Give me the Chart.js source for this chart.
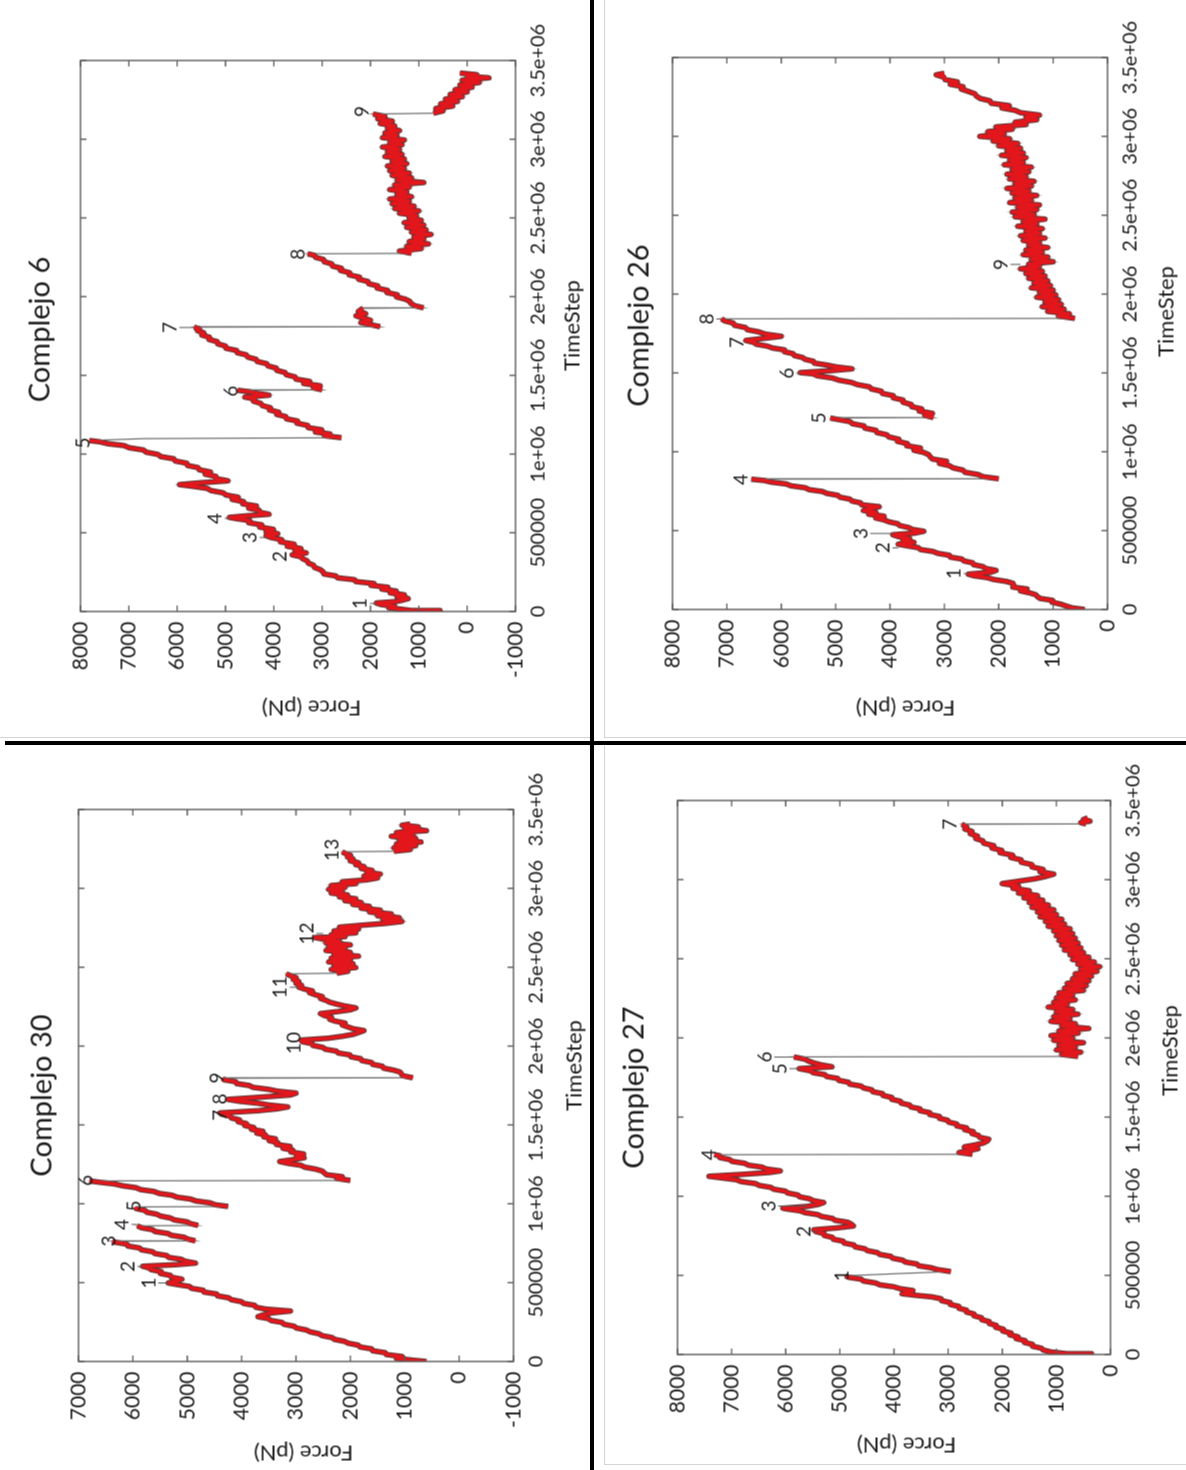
<!DOCTYPE html>
<html>
<head>
<meta charset="utf-8">
<title>Complejos - Force vs TimeStep</title>
<script src="https://cdn.jsdelivr.net/npm/chart.js@4.4.1/dist/chart.umd.min.js"></script>
<style>
  html, body { margin: 0; padding: 0; background: #fff; }
  body { width: 1186px; height: 1470px; position: relative; overflow: hidden; }
  .panel { position: absolute; transform: rotate(-90deg); transform-origin: 50% 50%; }
  .panel canvas { display: block; }
  .rule { position: absolute; background: #000; }
  .faint { position: absolute; background: #d4d4d4; }
</style>
</head>
<body>
<div class="faint" style="left:604px; top:0; width:1px; height:737px;"></div>
<div class="faint" style="left:0; top:737px; width:590px; height:1px;"></div>
<div class="faint" style="left:604px; top:737px; width:582px; height:1px;"></div>
<div class="faint" style="left:604px; top:745px; width:1px; height:720px;"></div>
<div class="faint" style="left:604px; top:1464px; width:582px; height:1px;"></div>
<div class="rule" style="left:590px; top:0; width:4px; height:1470px;"></div>
<div class="rule" style="left:5px; top:741px; width:1181px; height:4px;"></div>

<script>
// Time axis ticks (shared by all four panels)
const timeTickValues = [0, 500000, 1000000, 1500000, 2000000, 2500000, 3000000, 3500000];
const timeTickLabels = ['0', '500000', '1e+06', '1.5e+06', '2e+06', '2.5e+06', '3e+06', '3.5e+06'];

// Force axis ticks per panel
const forceTicks6  = [-1000, 0, 1000, 2000, 3000, 4000, 5000, 6000, 7000, 8000];
const forceTicks26 = [0, 1000, 2000, 3000, 4000, 5000, 6000, 7000, 8000];
const forceTicks30 = [-1000, 0, 1000, 2000, 3000, 4000, 5000, 6000, 7000];
const forceTicks27 = [0, 1000, 2000, 3000, 4000, 5000, 6000, 7000, 8000];

// Series: [time step in thousands, force in pN]
const c6Force = [
  [0,560],[6,1150],[14,1350],[24,1620],[34,1500],[44,1780],[54,1880],[63,1480],[72,1340],[82,1220],[94,1450],[106,1300],
  [118,1590],[130,1470],[142,1760],[154,1640],[166,1990],[178,1930],[190,2300],[202,2330],[214,2680],[226,2720],[238,2960],
  [252,2980],[266,3040],[280,3160],[294,3180],[308,3290],[322,3310],[336,3410],[348,3440],[360,3620],[372,3330],[386,3560],
  [400,3440],[414,3720],[428,3580],[442,3860],[456,3840],[470,4060],[482,4160],[494,3920],[508,4160],[522,4010],[536,4290],
  [550,4250],[564,4520],[578,4500],[590,4780],[598,4920],[608,4550],[618,4100],[630,4290],[642,4300],[656,4520],[670,4360],
  [684,4640],[698,4630],[712,4860],[726,4740],[740,4990],[754,5050],[768,5300],[782,5380],[794,5650],[806,5950],[818,5500],
  [830,4950],[844,5190],[858,5200],[872,5420],[886,5310],[900,5540],[914,5570],[928,5790],[942,5800],[956,6040],[970,6070],
  [984,6340],[998,6400],[1012,6640],[1026,6700],[1040,6990],[1054,7100],[1066,7440],[1078,7600],[1086,7820],[1098,6700],
  [1104,2600],[1116,2950],[1128,2840],[1140,3140],[1154,3010],[1168,3290],[1182,3300],[1196,3520],[1210,3510],[1224,3740],
  [1238,3750],[1252,3940],[1266,3900],[1280,4090],[1294,4070],[1308,4240],[1322,4270],[1336,4420],[1350,4400],[1362,4600],
  [1374,4100],[1386,4350],[1396,4500],[1405,4750],[1408,3000],[1420,3180],[1434,3040],[1448,3380],[1462,3260],[1476,3540],
  [1490,3560],[1504,3740],[1518,3770],[1532,3940],[1546,3950],[1560,4120],[1574,4150],[1588,4340],[1602,4370],[1616,4540],
  [1630,4570],[1644,4760],[1658,4770],[1672,4990],[1686,5000],[1700,5160],[1714,5170],[1728,5340],[1742,5330],[1756,5490],
  [1770,5450],[1784,5580],[1796,5540],[1806,5650],[1809,1800],[1822,2000],[1836,2200],[1850,2000],[1864,2150],[1878,2300],
  [1892,2100],[1906,2250],[1918,2200],[1926,2150],[1929,900],[1942,1080],[1956,1160],[1970,1190],[1984,1280],[1998,1460],
  [2012,1450],[2026,1660],[2040,1650],[2054,1860],[2068,1850],[2082,2040],[2096,2050],[2110,2240],[2124,2230],[2138,2440],
  [2152,2430],[2166,2620],[2180,2600],[2194,2790],[2208,2800],[2222,2960],[2236,2970],[2250,3140],[2262,3150],[2272,3300],
  [2275,1150],[2290,1400],[2305,950],[2320,1250],[2335,800],[2350,1200],[2365,900],[2380,1100],[2395,750],[2410,1150],
  [2425,850],[2440,1250],[2455,900],[2470,1300],[2485,950],[2500,1200],[2515,1050],[2530,1400],[2545,1000],[2560,1500],
  [2575,1100],[2590,1550],[2605,1200],[2620,1600],[2635,1150],[2650,1450],[2665,1250],[2680,1600],[2695,1200],[2710,1500],
  [2725,900],[2740,1450],[2755,1150],[2770,1550],[2785,1200],[2800,1600],[2815,1300],[2830,1650],[2845,1250],[2860,1550],
  [2875,1300],[2890,1700],[2905,1350],[2920,1650],[2935,1400],[2950,1750],[2965,1350],[2980,1600],[2995,1300],[3010,1750],
  [3025,1450],[3040,1700],[3055,1400],[3070,1650],[3085,1500],[3100,1800],[3115,1550],[3130,1850],[3145,1700],[3160,1950],
  [3165,700],[3180,500],[3195,650],[3210,300],[3225,550],[3240,200],[3255,450],[3270,100],[3285,350],[3300,0],[3315,250],
  [3330,-100],[3345,150],[3360,-250],[3375,100],[3390,-450],[3400,0],[3410,-200],[3420,150]
];

const c26Force = [
  [0,420],[10,650],[22,760],[34,860],[46,1020],[58,1010],[70,1240],[82,1290],[94,1320],[106,1440],[118,1600],[130,1480],
  [142,1740],[154,1720],[166,1740],[178,1860],[190,2090],[202,2210],[214,2460],[224,2560],[236,2150],[248,2050],[260,2240],
  [272,2290],[284,2460],[296,2480],[308,2640],[320,2680],[332,2890],[344,2910],[356,3120],[368,3210],[380,3440],[392,3480],
  [404,3690],[414,3850],[426,3560],[438,3760],[450,3640],[462,3840],[474,3950],[484,3550],[496,3380],[508,3590],[520,3660],
  [532,3820],[544,3860],[556,4020],[568,4110],[580,4260],[592,4110],[604,4390],[616,4260],[628,4490],[640,4360],[652,4200],
  [664,4520],[676,4540],[688,4700],[700,4740],[712,4920],[724,4960],[736,5160],[748,5240],[760,5490],[772,5560],[784,5820],
  [796,5910],[808,6190],[818,6310],[826,6550],[829,2000],[842,2290],[856,2380],[870,2620],[884,2660],[898,2840],[912,2910],
  [926,3090],[940,2960],[954,3220],[968,3260],[982,3290],[996,3380],[1010,3560],[1024,3440],[1038,3690],[1052,3680],
  [1066,3860],[1080,3840],[1094,4020],[1108,4060],[1122,4240],[1136,4260],[1150,4460],[1164,4480],[1178,4690],[1192,4740],
  [1204,4940],[1214,5100],[1217,3200],[1230,3360],[1244,3220],[1258,3460],[1272,3420],[1286,3600],[1300,3610],[1314,3760],
  [1328,3760],[1342,3940],[1356,3940],[1370,4140],[1384,4160],[1398,4340],[1412,4380],[1426,4600],[1440,4710],[1454,4940],
  [1468,5060],[1482,5340],[1494,5410],[1502,5650],[1514,5100],[1526,4700],[1538,4990],[1550,5160],[1562,5390],[1574,5410],
  [1586,5560],[1598,5610],[1610,5760],[1622,5780],[1634,5940],[1646,5940],[1658,6160],[1670,6260],[1682,6460],[1694,6510],
  [1706,6650],[1718,6350],[1732,6000],[1746,6290],[1760,6410],[1774,6620],[1788,6660],[1802,6860],[1816,6880],[1830,7040],
  [1843,7100],[1846,600],[1860,900],[1875,700],[1890,1100],[1905,800],[1920,1200],[1935,850],[1950,1150],[1965,900],
  [1980,1300],[1995,950],[2010,1250],[2025,1000],[2040,1400],[2055,1050],[2070,1350],[2085,1100],[2100,1450],[2115,1150],
  [2130,1500],[2145,1200],[2160,1600],[2175,1250],[2190,1450],[2205,1000],[2220,1400],[2235,1100],[2250,1550],[2265,1200],
  [2280,1500],[2295,1100],[2310,1450],[2325,1250],[2340,1550],[2355,1150],[2370,1600],[2385,1250],[2400,1500],[2415,1200],
  [2430,1650],[2445,1300],[2460,1550],[2475,1150],[2490,1700],[2505,1350],[2520,1750],[2535,1300],[2550,1650],[2565,1250],
  [2580,1800],[2595,1400],[2610,1700],[2625,1300],[2640,1750],[2655,1450],[2670,1850],[2685,1400],[2700,1700],[2715,1350],
  [2730,1800],[2745,1500],[2760,1850],[2775,1450],[2790,1750],[2805,1400],[2820,1900],[2835,1550],[2850,1800],[2865,1500],
  [2880,1950],[2895,1550],[2910,1850],[2925,1600],[2940,2000],[2955,1650],[2970,2100],[2985,1800],[3000,2350],[3015,1900],
  [3030,2200],[3045,1750],[3060,2050],[3075,1500],[3090,1700],[3105,1300],[3120,1500],[3135,1250],[3150,1600],[3165,1700],
  [3180,1940],[3195,1810],[3210,2140],[3225,2160],[3240,2340],[3255,2410],[3270,2440],[3285,2560],[3300,2690],[3315,2660],
  [3330,2890],[3345,2760],[3360,2990],[3375,3010],[3390,3150],[3400,3000]
];

const c30Force = [
  [0,600],[8,850],[20,1150],[32,1050],[44,1340],[56,1360],[68,1590],[80,1610],[92,1820],[104,1860],[116,2040],[128,2110],
  [140,2290],[152,2340],[164,2520],[176,2580],[188,2740],[200,2810],[212,2990],[224,3040],[236,3220],[248,3260],[260,3460],
  [272,3510],[284,3700],[296,3600],[308,3450],[320,3100],[332,3550],[344,3740],[356,3760],[368,3960],[380,4010],[392,4190],
  [404,4240],[416,4440],[428,4460],[440,4690],[452,4710],[464,4920],[476,4960],[488,5190],[498,5350],[510,5200],[522,5100],
  [534,5290],[546,5310],[558,5490],[570,5480],[582,5660],[594,5710],[604,5820],[614,5200],[624,4850],[636,5040],[648,5110],
  [660,5340],[672,5380],[684,5590],[696,5640],[708,5840],[720,5880],[732,6090],[744,6110],[756,6320],[762,6380],[765,4850],
  [776,4990],[788,5060],[800,5290],[812,5360],[824,5590],[836,5640],[848,5840],[860,5920],[863,4800],[874,4940],[886,5010],
  [898,5240],[910,5310],[922,5490],[934,5560],[946,5740],[958,5780],[970,5940],[980,5950],[983,4250],[994,4490],[1006,4580],
  [1018,4840],[1030,4940],[1042,5190],[1054,5280],[1066,5520],[1078,5610],[1090,5860],[1102,5940],[1114,6190],[1126,6340],
  [1136,6600],[1145,6800],[1148,2000],[1160,2250],[1172,2150],[1184,2440],[1196,2480],[1208,2520],[1220,2640],[1232,2840],
  [1244,2910],[1256,3140],[1268,3300],[1280,3050],[1292,2850],[1304,2990],[1316,2860],[1328,3090],[1340,3060],[1352,3240],
  [1364,3110],[1376,3360],[1388,3340],[1400,3490],[1412,3380],[1424,3590],[1436,3560],[1448,3720],[1460,3610],[1472,3820],
  [1484,3780],[1496,3940],[1508,3910],[1520,4060],[1532,4040],[1544,4190],[1556,4210],[1568,4370],[1576,4400],[1590,3700],
  [1602,3350],[1614,3150],[1626,3490],[1638,3710],[1650,4040],[1662,4250],[1676,3650],[1690,3100],[1702,3000],[1714,3340],
  [1726,3510],[1738,3790],[1750,3860],[1762,4090],[1774,4110],[1786,4320],[1796,4350],[1799,850],[1812,1040],[1824,1060],
  [1836,1090],[1848,1210],[1860,1390],[1872,1410],[1884,1590],[1896,1610],[1908,1790],[1920,1810],[1932,1990],[1944,2010],
  [1956,2220],[1968,2260],[1980,2460],[1992,2510],[2004,2690],[2016,2710],[2028,2890],[2038,2900],[2050,2400],[2062,2150],
  [2074,1950],[2086,1850],[2098,1750],[2110,1950],[2122,2050],[2134,2150],[2146,2100],[2158,2280],[2170,2380],[2182,2350],
  [2194,2480],[2206,2550],[2218,2250],[2230,2000],[2242,1900],[2254,2100],[2266,2250],[2278,2380],[2290,2450],[2302,2550],
  [2314,2520],[2326,2650],[2338,2750],[2350,2700],[2362,2850],[2374,2950],[2386,2900],[2398,3000],[2410,2950],[2422,3050],
  [2434,3000],[2446,3100],[2458,3180],[2462,2250],[2474,2050],[2486,2350],[2498,1900],[2510,2300],[2522,1950],[2534,2400],
  [2546,2000],[2558,2350],[2570,1850],[2582,2300],[2594,2000],[2606,2450],[2618,2100],[2630,2400],[2642,2000],[2654,2450],
  [2666,2200],[2678,2500],[2688,2650],[2694,2100],[2706,2350],[2718,1900],[2730,2300],[2742,1850],[2754,2200],[2766,1800],
  [2778,1350],[2790,1050],[2802,1400],[2814,1100],[2826,1500],[2838,1250],[2850,1650],[2862,1450],[2874,1800],[2886,1650],
  [2898,1950],[2910,1800],[2922,2100],[2934,1900],[2946,2200],[2958,2050],[2970,2350],[2982,2150],[2994,2400],[3006,2100],
  [3018,2350],[3030,1900],[3042,2150],[3054,1700],[3066,1500],[3078,1750],[3090,1450],[3102,1700],[3114,1600],[3126,1800],
  [3138,1750],[3150,1900],[3162,1850],[3174,2000],[3186,1950],[3198,2050],[3210,2000],[3222,2100],[3232,2150],[3235,1200],
  [3246,900],[3258,1200],[3270,800],[3282,1150],[3294,700],[3306,1100],[3318,800],[3330,1250],[3342,850],[3354,1150],
  [3366,600],[3378,1000],[3390,750],[3400,1050],[3408,900]
];

const c27Force = [
  [0,350],[5,800],[16,1100],[28,1240],[40,1280],[52,1440],[64,1440],[76,1590],[88,1580],[100,1740],[112,1710],[124,1860],
  [136,1840],[148,1990],[160,1980],[172,2120],[184,2110],[196,2240],[208,2240],[220,2380],[232,2380],[244,2520],[256,2520],
  [268,2660],[280,2660],[292,2800],[304,2800],[316,2960],[328,2960],[340,3120],[352,3130],[364,3300],[374,3600],[384,3850],
  [394,3700],[404,3650],[416,3890],[428,4010],[440,4260],[452,4340],[464,4560],[476,4610],[488,4840],[497,4900],[510,4000],
  [524,2950],[536,3190],[548,3310],[560,3540],[572,3580],[584,3790],[596,3840],[608,4020],[620,4060],[632,4260],[644,4310],
  [656,4490],[668,4540],[680,4720],[692,4740],[704,4920],[716,4940],[728,5120],[740,5140],[752,5290],[764,5290],[776,5440],
  [788,5480],[800,5050],[812,4750],[824,4790],[836,4860],[848,5090],[860,5140],[872,5340],[884,5410],[896,5640],[908,5740],
  [918,5950],[924,6050],[936,5600],[948,5400],[960,5300],[972,5490],[984,5560],[996,5740],[1008,5780],[1020,5960],
  [1032,6010],[1044,6220],[1056,6280],[1068,6490],[1080,6560],[1092,6820],[1104,6910],[1116,7190],[1126,7420],[1138,6800],
  [1150,6300],[1160,6100],[1172,6360],[1184,6440],[1196,6690],[1208,6760],[1220,6990],[1232,7040],[1244,7220],[1256,7220],
  [1262,7320],[1265,2550],[1276,2800],[1288,2620],[1300,2450],[1312,2700],[1324,2500],[1336,2350],[1348,2280],[1360,2250],
  [1372,2420],[1384,2440],[1396,2560],[1408,2540],[1420,2690],[1432,2660],[1444,2840],[1456,2840],[1468,2990],[1480,3010],
  [1492,3160],[1504,3160],[1516,3340],[1528,3340],[1540,3520],[1552,3520],[1564,3690],[1576,3710],[1588,3870],[1600,3880],
  [1612,4040],[1624,4040],[1636,4200],[1648,4210],[1660,4390],[1672,4410],[1684,4560],[1696,4610],[1708,4820],[1720,4840],
  [1732,5020],[1744,5040],[1756,5240],[1768,5280],[1780,5490],[1792,5540],[1806,5750],[1818,5150],[1830,5350],[1842,5480],
  [1854,5580],[1866,5650],[1880,5850],[1883,600],[1895,900],[1910,550],[1925,1000],[1940,650],[1955,950],[1970,500],
  [1985,1050],[2000,700],[2015,1100],[2030,600],[2045,950],[2060,400],[2075,900],[2090,650],[2105,1100],[2120,750],
  [2135,1050],[2150,600],[2165,1000],[2180,700],[2195,1150],[2210,800],[2225,1050],[2240,650],[2255,1000],[2270,700],
  [2285,950],[2300,500],[2315,850],[2330,450],[2345,800],[2360,400],[2375,700],[2390,350],[2405,650],[2420,250],[2435,550],
  [2450,200],[2465,600],[2480,300],[2495,700],[2510,400],[2525,750],[2540,500],[2555,850],[2570,550],[2585,900],[2600,600],
  [2615,950],[2630,650],[2645,1000],[2660,700],[2675,1050],[2690,750],[2705,1150],[2720,850],[2735,1200],[2750,900],
  [2765,1300],[2780,1000],[2795,1350],[2810,1050],[2825,1450],[2840,1150],[2855,1500],[2870,1250],[2885,1600],[2900,1350],
  [2915,1700],[2930,1500],[2945,1800],[2960,1700],[2975,2000],[2990,1700],[3005,1400],[3020,1200],[3035,1050],[3050,1300],
  [3065,1250],[3080,1450],[3095,1450],[3110,1650],[3125,1650],[3140,1840],[3155,1810],[3170,2040],[3185,2010],[3200,2190],
  [3215,2160],[3230,2340],[3245,2360],[3260,2490],[3275,2460],[3290,2590],[3305,2560],[3320,2690],[3335,2660],[3350,2750],
  [3352,450],[3360,550],[3370,380],[3380,500],[3390,420]
];

// Numbered events: [label, time step in thousands, label force, force of the marked peak]
const c6Marks  = [['1',51,2200,1880],['2',349,3860,3620],['3',470,4480,4160],['4',591,5200,4920],['5',1070,7950,7820],
                  ['6',1399,4880,4750],['7',1804,6140,5650],['8',2269,3500,3300],['9',3176,2160,1950]];
const c26Marks = [['1',228,2810,2560],['2',391,4120,3850],['3',482,4530,3950],['4',824,6740,6550],['5',1214,5300,5100],
                  ['6',1498,5890,5650],['7',1693,6810,6650],['8',1842,7360,7100],['9',2188,1950,1600]];
const c30Marks = [['1',498,5700,5350],['2',602,6080,5820],['3',764,6440,6380],['4',869,6190,5920],['5',986,5980,5950],
                  ['6',1148,6860,6800],['7',1561,4400,4300],['8',1664,4400,4250],['9',1798,4440,4350],['10',2019,3030,2850],
                  ['11',2373,3280,2950],['12',2714,2790,2500],['13',3244,2330,2150]];
const c27Marks = [['1',497,4960,4900],['2',777,5650,5400],['3',938,6310,5600],['4',1262,7420,7320],['5',1806,6100,5750],
                  ['6',1879,6380,5850],['7',3350,2950,2750]];

const FONT = "Lato, 'Open Sans', 'DejaVu Sans', sans-serif";
const TEXT = '#1c1c1c';
const FRAME = '#5c5c5c';

// Each panel is drawn in its natural orientation and then turned a quarter turn
// counter-clockwise; box = page region, area = plot rectangle inside the canvas.
const panels = [
  { id: 'c6',  title: 'Complejo 6',  series: c6Force,  marks: c6Marks,  yTicks: forceTicks6,
    box: { x0: 0,   y0: 0,   w: 590, h: 741 }, area: { l: 130, r: 681, t: 80, b: 515 },
    titleAt: [412, 40], forceAt: [34, 311], timeAt: [416, 572] },
  { id: 'c26', title: 'Complejo 26', series: c26Force, marks: c26Marks, yTicks: forceTicks26,
    box: { x0: 594, y0: 0,   w: 592, h: 741 }, area: { l: 132, r: 684, t: 78, b: 513 },
    titleAt: [416, 45], forceAt: [34, 311], timeAt: [430, 572] },
  { id: 'c30', title: 'Complejo 30', series: c30Force, marks: c30Marks, yTicks: forceTicks30,
    box: { x0: 0,   y0: 745, w: 590, h: 725 }, area: { l: 109, r: 661, t: 78, b: 513 },
    titleAt: [375, 42], forceAt: [18, 303], timeAt: [405, 574] },
  { id: 'c27', title: 'Complejo 27', series: c27Force, marks: c27Marks, yTicks: forceTicks27,
    box: { x0: 594, y0: 745, w: 592, h: 725 }, area: { l: 116, r: 670, t: 83, b: 516 },
    titleAt: [383, 40], forceAt: [26, 312], timeAt: [420, 576] }
];

// A segment is a rupture when the force jumps by at least this much between samples
const RUPTURE = 900;
const isRupture = c => Math.abs(c.p1.parsed.y - c.p0.parsed.y) >= RUPTURE;

function decorations(p) {
  return {
    id: 'decor_' + p.id,
    afterDraw(chart) {
      const { ctx, chartArea: a } = chart;
      const xs = chart.scales.x, ys = chart.scales.y;
      ctx.save();
      ctx.strokeStyle = FRAME;
      ctx.lineWidth = 1.4;
      ctx.beginPath();
      xs.ticks.forEach(tk => {
        const px = xs.getPixelForValue(tk.value);
        ctx.moveTo(px, a.bottom); ctx.lineTo(px, a.bottom - 6);
        ctx.moveTo(px, a.top);    ctx.lineTo(px, a.top + 6);
      });
      ys.ticks.forEach(tk => {
        const py = ys.getPixelForValue(tk.value);
        ctx.moveTo(a.left, py);  ctx.lineTo(a.left + 6, py);
        ctx.moveTo(a.right, py); ctx.lineTo(a.right - 6, py);
      });
      ctx.stroke();
      ctx.strokeRect(a.left, a.top, a.right - a.left, a.bottom - a.top);

      // event numbers with a short leader down to the peak
      ctx.fillStyle = TEXT;
      ctx.textAlign = 'center';
      ctx.textBaseline = 'middle';
      ctx.font = '19px ' + FONT;
      ctx.strokeStyle = '#555';
      ctx.lineWidth = 1;
      p.marks.forEach(([txt, t, f, peak]) => {
        const px = xs.getPixelForValue(t * 1000);
        const py = ys.getPixelForValue(f);
        ctx.fillText(txt, px, py);
        const top = py + 9, end = ys.getPixelForValue(peak);
        if (end - top > 3) {
          ctx.beginPath(); ctx.moveTo(px, top); ctx.lineTo(px, end); ctx.stroke();
        }
      });

      ctx.font = '29px ' + FONT;
      ctx.fillText(p.title, p.titleAt[0], p.titleAt[1]);
      ctx.font = '22px ' + FONT;
      ctx.fillText('TimeStep', p.timeAt[0], p.timeAt[1]);
      ctx.translate(p.forceAt[0], p.forceAt[1]);
      ctx.rotate(-Math.PI / 2);
      ctx.fillText('Force (pN)', 0, 0);
      ctx.restore();
    }
  };
}

panels.forEach(p => {
  const W = p.box.h, H = p.box.w;   // canvas size before the quarter turn
  const wrap = document.createElement('div');
  wrap.className = 'panel';
  wrap.style.width = W + 'px';
  wrap.style.height = H + 'px';
  wrap.style.left = (p.box.x0 + p.box.w / 2 - W / 2) + 'px';
  wrap.style.top = (p.box.y0 + p.box.h / 2 - H / 2) + 'px';
  const canvas = document.createElement('canvas');
  canvas.width = W; canvas.height = H;
  canvas.style.width = W + 'px'; canvas.style.height = H + 'px';
  wrap.appendChild(canvas);
  document.body.appendChild(wrap);

  const pts = p.series.map(([t, f]) => ({ x: t * 1000, y: f }));
  const yT = p.yTicks;

  new Chart(canvas, {
    type: 'line',
    data: {
      datasets: [
        { data: pts, order: 0, borderColor: '#e3161c', borderWidth: 3.5, pointRadius: 0, tension: 0,
          borderJoinStyle: 'round', segment: { borderColor: c => isRupture(c) ? 'rgba(0,0,0,0)' : undefined } },
        { data: pts, order: 1, borderColor: '#6a6a6a', borderWidth: 1.2, pointRadius: 0, tension: 0 },
        { data: pts, order: 2, borderColor: '#5e3434', borderWidth: 5.5, pointRadius: 0, tension: 0,
          borderJoinStyle: 'round', segment: { borderColor: c => isRupture(c) ? 'rgba(0,0,0,0)' : undefined } }
      ]
    },
    options: {
      responsive: false,
      devicePixelRatio: 1,
      animation: false,
      events: [],
      layout: { padding: { left: 0, top: p.area.t, right: W - p.area.r, bottom: 0 } },
      plugins: { legend: { display: false }, tooltip: { enabled: false }, title: { display: false } },
      scales: {
        x: {
          type: 'linear', min: timeTickValues[0], max: timeTickValues[timeTickValues.length - 1],
          afterBuildTicks: s => { s.ticks = timeTickValues.map(v => ({ value: v })); },
          afterFit: s => { s.height = H - p.area.b; },
          grid: { display: false, drawTicks: false },
          border: { display: false },
          ticks: { autoSkip: false, maxRotation: 0, minRotation: 0, padding: 11, color: TEXT,
                   font: { family: FONT, size: 20 }, callback: (v, i) => timeTickLabels[i] }
        },
        y: {
          type: 'linear', min: yT[0], max: yT[yT.length - 1],
          afterBuildTicks: s => { s.ticks = yT.map(v => ({ value: v })); },
          afterFit: s => { s.width = p.area.l; },
          grid: { display: false, drawTicks: false },
          border: { display: false },
          ticks: { padding: 10, color: TEXT, font: { family: FONT, size: 21 }, callback: v => String(v) }
        }
      }
    },
    plugins: [decorations(p)]
  });
});
</script>
</body>
</html>
